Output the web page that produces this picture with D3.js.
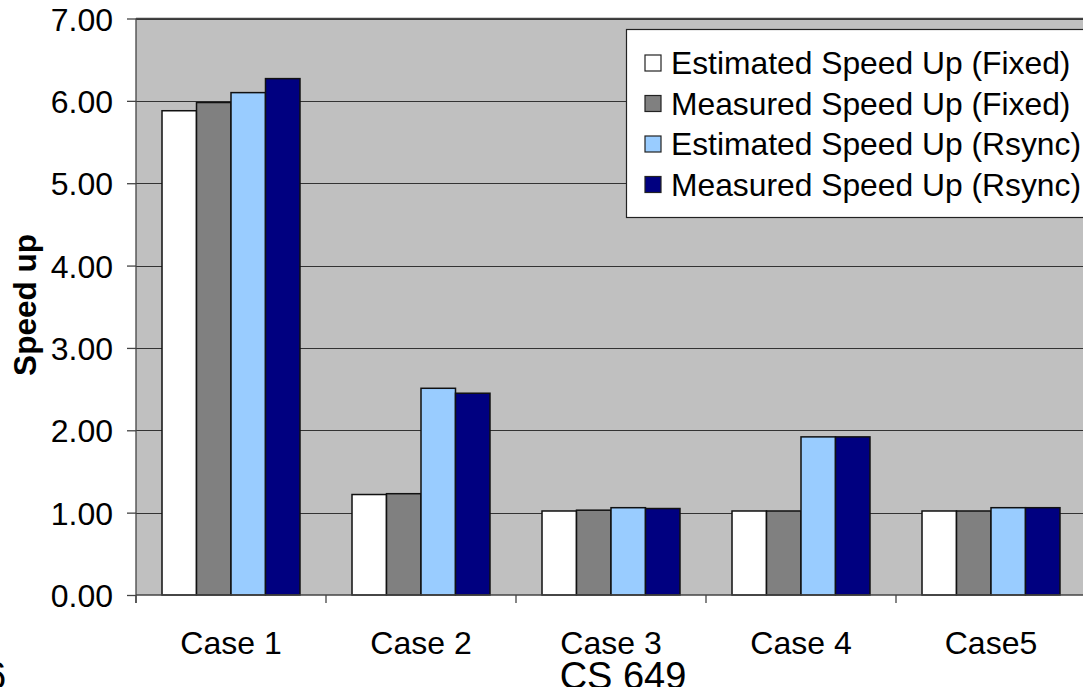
<!DOCTYPE html>
<html>
<head>
<meta charset="utf-8">
<script src="https://cdn.jsdelivr.net/npm/d3@7"></script>
<style>
html,body{margin:0;padding:0;background:#fff;overflow:hidden;}
svg{display:block;}
text{font-family:"Liberation Sans",Arial,sans-serif;}
</style>
</head>
<body>
<svg id="chart" width="1083" height="687"></svg>
<script>
const categories = ["Case 1", "Case 2", "Case 3", "Case 4", "Case5"];
const seriesNames = ["Estimated Speed Up (Fixed)", "Measured Speed Up (Fixed)", "Estimated Speed Up (Rsync)", "Measured Speed Up (Rsync)"];
const seriesColors = ["#FFFFFF", "#808080", "#99CCFF", "#000080"];
const estFixed  = [5.88, 1.22, 1.02, 1.02, 1.02];
const measFixed = [5.98, 1.23, 1.03, 1.02, 1.02];
const estRsync  = [6.10, 2.51, 1.06, 1.92, 1.06];
const measRsync = [6.27, 2.45, 1.05, 1.92, 1.06];
const yTicks = [0, 1, 2, 3, 4, 5, 6, 7];
const yTitle = "Speed up";
const footer = "CS 649";
const slideNum = "6";

const seriesValues = [estFixed, measFixed, estRsync, measRsync];

(function(){
const svg = d3.select("#chart");
const pL = 136, pR = 1086, pT = 18.5, pB = 595;

const x = d3.scaleBand().domain(categories).range([pL, pR]).paddingInner(0).paddingOuter(0);
const xs = d3.scaleBand().domain(d3.range(seriesNames.length)).range([0, x.bandwidth()]).paddingInner(0).paddingOuter(0.754);
const y = d3.scaleLinear().domain([0, 7]).range([pB, pT]);

// plot background
svg.append("rect").attr("x", pL).attr("y", pT).attr("width", pR - pL).attr("height", pB - pT)
  .attr("fill", "#C0C0C0");

// gridlines
svg.append("g").selectAll("line").data(yTicks.filter(d => d > 0)).join("line")
  .attr("x1", pL).attr("x2", pR)
  .attr("y1", d => Math.round(y(d)) + 0.5).attr("y2", d => Math.round(y(d)) + 0.5)
  .attr("stroke", "#333").attr("stroke-width", 1.2);

// bars
const gBars = svg.append("g");
categories.forEach((c, ci) => {
  seriesValues.forEach((vals, si) => {
    gBars.append("rect")
      .attr("x", x(c) + xs(si))
      .attr("y", y(vals[ci]))
      .attr("width", xs.bandwidth())
      .attr("height", y(0) - y(vals[ci]))
      .attr("fill", seriesColors[si])
      .attr("stroke", "#111").attr("stroke-width", 1.5);
  });
});

// y axis
const yAxis = d3.axisLeft(y).tickValues(yTicks).tickFormat(d3.format(".2f")).tickSize(9).tickPadding(14);
const gy = svg.append("g").attr("transform", `translate(${pL},0)`).call(yAxis);
gy.select(".domain").attr("stroke", "#444").attr("stroke-width", 1.3).attr("d", `M0,${pT}V${pB + 8}`);
gy.selectAll(".tick line").attr("stroke", "#444").attr("stroke-width", 1.3);
gy.selectAll(".tick text").attr("font-size", 32).attr("fill", "#000")
  .attr("font-family", "'Liberation Sans', Arial, sans-serif").attr("dy", "0.36em");

// x axis
const xAxis = d3.axisBottom(x).tickSize(0).tickPadding(0);
const gx = svg.append("g").attr("transform", `translate(0,${pB})`).call(xAxis);
gx.select(".domain").attr("stroke", "#444").attr("stroke-width", 1.3).attr("d", `M${pL},0H${pR}`);
gx.selectAll(".tick text").attr("font-size", 32).attr("fill", "#000")
  .attr("font-family", "'Liberation Sans', Arial, sans-serif").attr("y", 59).attr("dy", 0);
// category separator ticks
svg.append("g").selectAll("line").data(d3.range(categories.length + 1)).join("line")
  .attr("x1", i => pL + i * x.step()).attr("x2", i => pL + i * x.step())
  .attr("y1", pB).attr("y2", pB + 8)
  .attr("stroke", "#444").attr("stroke-width", 1.3);

// top border of plot
svg.append("line").attr("x1", pL).attr("x2", pR).attr("y1", pT).attr("y2", pT)
  .attr("stroke", "#444").attr("stroke-width", 1.3);

// y title
svg.append("text").attr("transform", "translate(36,305) rotate(-90)")
  .attr("text-anchor", "middle").attr("font-size", 31.5).attr("font-weight", "bold").text(yTitle);

// legend
const lg = svg.append("g");
lg.append("rect").attr("x", 626.5).attr("y", 29.5).attr("width", 470).attr("height", 188)
  .attr("fill", "#fff").attr("stroke", "#222").attr("stroke-width", 1.2);
seriesNames.forEach((name, i) => {
  const cy = 63 + i * 40.5;
  lg.append("rect").attr("x", 645).attr("y", cy - 8).attr("width", 16).attr("height", 16)
    .attr("fill", seriesColors[i]).attr("stroke", "#222").attr("stroke-width", 1.2);
  lg.append("text").attr("x", 671).attr("y", cy + 11).attr("font-size", 31.8).attr("fill", "#000").text(name);
});

// footer
svg.append("text").attr("x", 623).attr("y", 689).attr("text-anchor", "middle")
  .attr("font-family", "'DejaVu Sans', sans-serif").attr("font-size", 38).attr("fill", "#000").text(footer);
svg.append("text").attr("x", -15).attr("y", 689)
  .attr("font-family", "'DejaVu Sans', sans-serif").attr("font-size", 38).attr("fill", "#000").text(slideNum);
})();
</script>
</body>
</html>
